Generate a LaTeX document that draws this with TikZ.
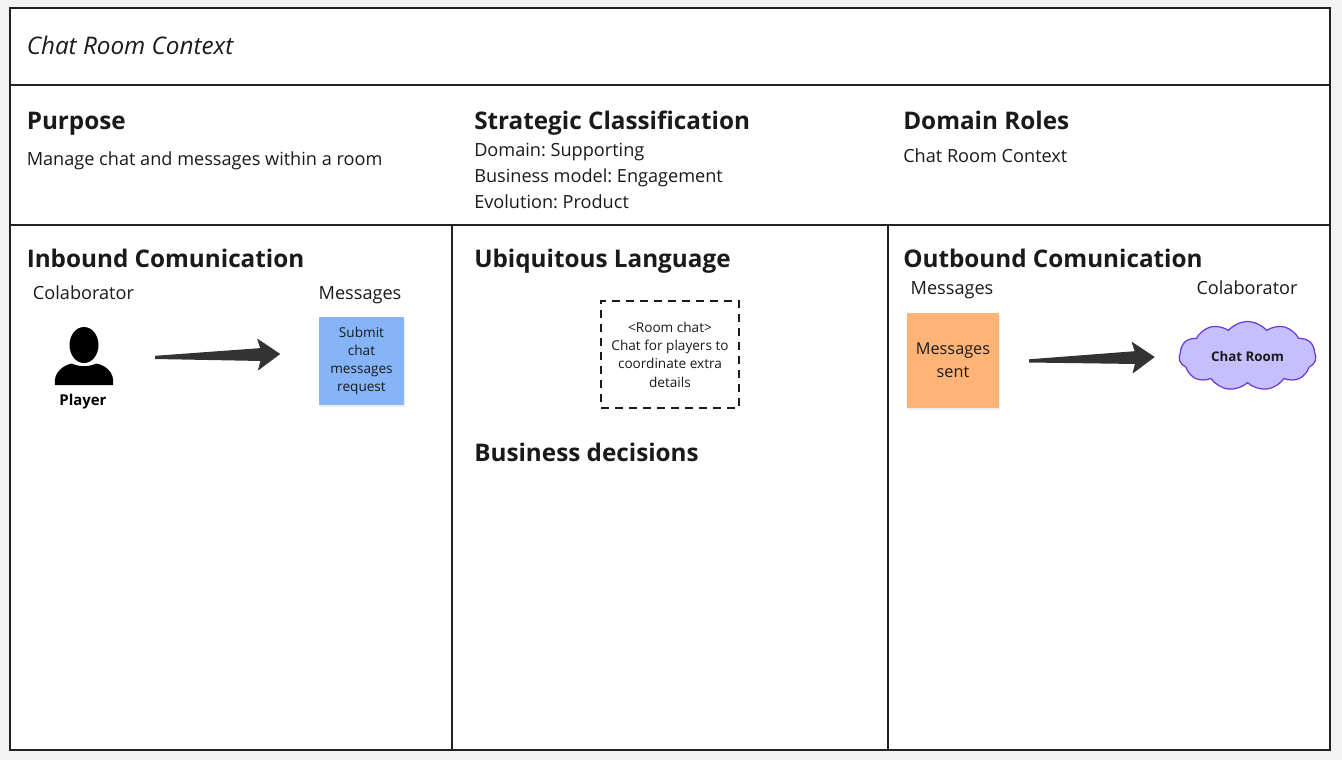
\documentclass[tikz,border=0pt]{standalone}
\usepackage{fontspec}
\setmainfont{Open Sans}
\usetikzlibrary{positioning, arrows.meta, shapes.symbols, shadows, calc}
\definecolor{ink}{HTML}{1A1A1A}
\definecolor{margin}{HTML}{F3F3F3}
\definecolor{frameline}{HTML}{222222}
\definecolor{arrowgray}{HTML}{333333}
\definecolor{stickyblue}{HTML}{85B4F8}
\definecolor{stickyorange}{HTML}{FFB376}
\definecolor{cloudfill}{HTML}{C6BFFD}
\definecolor{cloudline}{HTML}{6A35D5}
\tikzset{
  x=0.75pt,
  y=-0.75pt,
  panel/.style={draw=frameline, line width=1.3pt, fill=white},
  heading/.style={anchor=base west, inner sep=0pt, text=ink, font=\fontsize{18.2}{22}\selectfont\bfseries},
  body/.style={anchor=base west, inner sep=0pt, text=ink, font=\fontsize{13.6}{19.5}\selectfont, align=left},
  caption/.style={anchor=base, inner sep=0pt, text=ink, font=\fontsize{13.6}{16}\selectfont},
  sticky/.style={align=center, inner sep=2pt, text=ink, font=\fontsize{10.2}{13.5}\selectfont,
    drop shadow={shadow xshift=1pt, shadow yshift=-1.5pt, opacity=0.12}},
  flow/.style={draw=arrowgray, line width=0.4pt, -{Stealth[length=17pt, width=24pt, inset=3.5pt, round]}},
  taper/.style={fill=arrowgray},
}
\begin{document}
\frenchspacing
\begin{tikzpicture}
	\fill[margin] (0,0) rectangle (1342,760);
	\useasboundingbox (0,0) rectangle (1342,760);

	% panels
	\draw[panel] (10,8) rectangle (1330,750);
	\draw[panel, fill=none] (10,85) -- (1330,85);
	\draw[panel, fill=none] (10,225) -- (1330,225);
	\draw[panel, fill=none] (452,225) -- (452,750);
	\draw[panel, fill=none] (888,225) -- (888,750);

	% title row
	\node[body, font=\fontsize{18.2}{20}\selectfont\itshape] (title) at (26.5,54) {Chat Room Context};

	% upper row
	\node[heading] (purpose) at (26.5,129) {Purpose};
	\node[body] (purposetext) at (26.5,165) {Manage chat and messages within a room};
	\node[heading] (strategic) at (474,129) {Strategic Classification};
	\node[body, anchor=west] (strategictext) at (474,176) {Domain: Supporting\\Business model: Engagement\\Evolution: Product};
	\node[heading] (roles) at (903,129) {Domain Roles};
	\node[body] (rolestext) at (903,162.5) {Chat Room Context};

	% lower row
	\node[heading] (inbound) at (26.5,267) {Inbound Comunication};
	\node[heading] (language) at (474,267) {Ubiquitous Language};
	\node[heading] (decisions) at (474,461) {Business decisions};
	\node[heading] (outbound) at (903,267) {Outbound Comunication};

	% inbound side
	\node[caption] (incolab) at (83.5,299) {Colaborator};
	\node[caption] (inmsg) at (360,299) {Messages};
	\node[inner sep=0pt, font=\fontsize{11.2}{13}\selectfont\bfseries, text=black] (player) at (83,401.5) {Player};
	\fill[black] (84,345) ellipse (14.5 and 18);
	\fill[black] (55,385) .. controls (53,372) and (64,365) .. (72,363.5)
		.. controls (78,367) and (90,367) .. (96,363.5)
		.. controls (105,365) and (115,372) .. (113,385) -- cycle;
	\node[sticky, fill=stickyblue, minimum width=85pt*0.75, minimum height=88pt*0.75, text width=58pt] (submit) at (361.5,361) {Submit\\chat\\messages\\request};
	\coordinate (inflowa) at (155,357);
	\coordinate (inflowb) at (280,354);
	\fill[taper] (inflowa) -- ++(0,-1.2) -- (262,348) -- (262,361) -- ($(inflowa)+(0,2)$) -- cycle;
	\draw[flow] (inflowa) -- (inflowb);

	% term card
	\node[draw=ink, line width=1.1pt, dash pattern=on 6pt off 4.5pt, minimum width=138pt*0.75, minimum height=107pt*0.75,
		align=center, inner sep=0pt, text=ink, font=\fontsize{10.2}{13.7}\selectfont] (roomchat) at (670,354.5) {<Room chat>\\Chat for players to\\coordinate extra\\details};

	% outbound side
	\node[caption] (outmsg) at (952,294) {Messages};
	\node[caption] (outcolab) at (1247,294) {Colaborator};
	\node[sticky, fill=stickyorange, minimum width=92pt*0.75, minimum height=95pt*0.75, font=\fontsize{12.2}{17.5}\selectfont, text width=62pt] (sent) at (953,360.5) {Messages\\sent};
	\node[cloud, cloud puffs=11, cloud puff arc=100, aspect=2.2, draw=cloudline, line width=0.9pt, fill=cloudfill,
		minimum width=137pt*0.75, minimum height=69pt*0.75, inner sep=0pt, text=ink, font=\fontsize{10}{13}\selectfont\bfseries] (room) at (1247.5,356) {Chat Room};
	\coordinate (outflowa) at (1029,360.5);
	\coordinate (outflowb) at (1154.5,357);
	\fill[taper] (outflowa) -- ++(0,-1.2) -- (1137,351) -- (1137,364) -- ($(outflowa)+(0,2)$) -- cycle;
	\draw[flow] (outflowa) -- (outflowb);

\end{tikzpicture}
\end{document}
